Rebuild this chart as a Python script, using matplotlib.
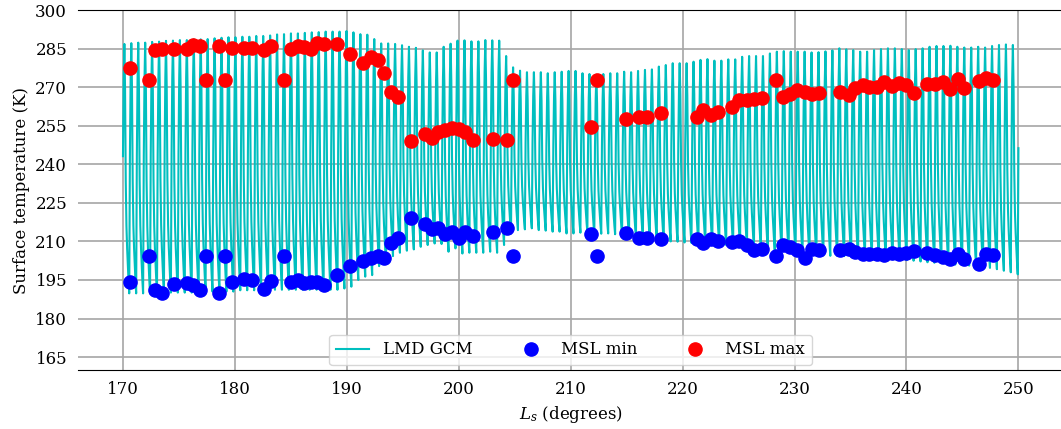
import matplotlib
matplotlib.use("Agg")
import matplotlib.pyplot as plt
import numpy as np

plt.rcParams['font.family'] = 'DejaVu Serif'
plt.rcParams['mathtext.fontset'] = 'dejavuserif'
plt.rcParams['font.size'] = 12

# LMD GCM: daily maximum / minimum surface temperature (K), one value per sol
gcm_tmax = [286.8, 287.1, 287.3, 287.3, 287.6, 287.7, 288.0, 288.1, 288.3, 288.3,
            288.6, 288.6, 288.7, 289.0, 289.2, 289.4, 289.4, 289.6, 289.6, 289.9,
            289.9, 290.1, 290.5, 290.6, 290.9, 290.9, 291.1, 291.3, 291.4, 291.6,
            291.6, 291.6, 291.8, 291.3, 290.6, 290.4, 288.7, 287.0, 287.0, 286.8,
            286.3, 285.7, 285.3, 284.3, 283.5, 283.5, 285.7, 286.9, 288.1, 288.2,
            287.8, 287.8, 288.3, 288.2, 288.1, 282.1, 277.7, 276.4, 275.8, 275.8,
            275.8, 275.4, 275.8, 276.0, 276.3, 276.3, 275.4, 275.1, 274.8, 275.1,
            275.4, 275.4, 276.0, 275.8, 276.3, 276.7, 276.9, 278.0, 278.6, 279.3,
            279.3, 279.3, 279.9, 280.6, 280.9, 280.3, 280.3, 280.8, 280.8, 281.8,
            282.1, 282.1, 282.1, 283.1, 283.8, 284.0, 283.8, 283.8, 283.8, 283.5,
            283.6, 283.9, 284.3, 285.1, 284.7, 284.4, 283.8, 283.8, 284.4, 284.8,
            285.1, 285.1, 284.8, 284.4, 284.8, 285.1, 285.7, 286.0, 286.0, 286.1,
            285.7, 285.4, 285.4, 285.7, 285.4, 286.0, 286.4, 286.6, 286.4]
gcm_tmin = [189.8, 189.8, 189.8, 189.8, 189.8, 190.1, 190.1, 190.1, 190.1, 190.1,
            190.1, 190.5, 190.5, 190.5, 190.5, 190.5, 191.0, 191.0, 191.0, 191.0,
            191.0, 191.2, 191.2, 191.2, 191.2, 191.2, 191.2, 191.2, 191.2, 191.2,
            191.2, 191.7, 192.4, 195.0, 196.3, 196.9, 200.4, 201.4, 204.3, 205.6,
            206.4, 206.9, 207.9, 208.6, 209.2, 209.0, 206.0, 207.3, 205.3, 205.6,
            205.6, 205.6, 206.0, 205.6, 208.6, 213.1, 214.4, 214.7, 215.1, 214.4,
            214.2, 213.8, 213.8, 213.1, 213.1, 213.4, 213.8, 213.1, 213.0, 213.1,
            212.8, 212.5, 212.2, 211.8, 211.5, 211.2, 210.9, 210.5, 210.0, 209.9,
            209.6, 209.4, 209.2, 209.2, 209.0, 208.9, 208.6, 208.6, 208.3, 207.9,
            207.6, 207.3, 206.9, 206.3, 206.0, 205.6, 205.3, 204.9, 204.7, 204.5,
            204.6, 204.4, 204.4, 204.3, 204.0, 203.9, 203.8, 203.6, 203.4, 203.2,
            203.0, 202.8, 202.7, 202.5, 202.2, 201.9, 201.7, 201.5, 201.3, 201.0,
            200.8, 200.6, 200.4, 200.1, 199.7, 199.2, 198.6, 198.0, 197.2]

# shape of one sol (fraction of the sol, fraction of the min->max range)
sol_phase = [0.0, 0.1, 0.2, 0.3, 0.4, 0.5, 0.6, 0.7, 0.8, 0.9]
sol_frac = [0.55, 0.85, 1.0, 0.82, 0.45, 0.27, 0.18, 0.11, 0.05, 0.0]

ls_start = 170.0
ls_end = 250.0

# MSL (REMS) measurements
msl_ls = [170.6, 172.3, 172.85, 173.45, 174.56, 175.68, 176.29, 176.88, 177.42, 178.58,
          179.14, 179.74, 180.84, 181.5, 182.6, 183.25, 184.39, 184.98, 185.6, 186.18,
          186.77, 187.37, 187.96, 189.15, 190.32, 191.48, 192.14, 192.75, 193.32, 193.92,
          194.55, 195.72, 196.98, 197.57, 198.18, 198.78, 199.4, 200.0, 200.6, 201.24,
          203.04, 204.29, 204.88, 211.77, 212.36, 214.9, 216.14, 216.8, 218.08, 221.27,
          221.86, 222.52, 223.2, 224.45, 225.08, 225.74, 226.39, 227.07, 228.32, 228.95,
          229.6, 230.26, 230.95, 231.6, 232.22, 234.1, 234.82, 235.4, 236.07, 236.69,
          237.35, 238.0, 238.69, 239.35, 239.97, 240.69, 241.82, 242.56, 243.25, 243.9,
          244.56, 245.18, 246.45, 247.12, 247.72]
msl_min = [194.3, 204.4, 191.3, 190.0, 193.4, 193.9, 193.0, 191.3, 204.4, 190.0,
           204.4, 194.1, 195.5, 195.1, 191.6, 194.5, 204.4, 194.3, 195.0, 193.7,
           194.3, 194.3, 192.9, 196.9, 200.4, 202.4, 203.4, 204.3, 203.6, 209.2,
           211.4, 219.0, 216.8, 214.8, 215.1, 212.9, 213.8, 211.4, 213.8, 212.2,
           213.8, 215.1, 204.4, 212.8, 204.4, 213.4, 211.4, 211.2, 210.8, 210.9,
           209.5, 211.0, 210.3, 209.8, 210.1, 208.6, 206.6, 207.0, 204.4, 208.6,
           207.9, 206.6, 203.6, 207.0, 206.6, 206.5, 206.9, 206.0, 205.1, 205.3,
           205.1, 204.7, 205.6, 205.1, 205.6, 206.3, 205.6, 204.7, 204.0, 203.0,
           205.1, 203.0, 201.1, 205.3, 204.7]
msl_max = [277.6, 272.8, 284.4, 284.8, 284.8, 284.8, 286.5, 286.1, 272.8, 286.1,
           272.8, 285.3, 285.1, 285.3, 284.6, 285.9, 272.8, 284.7, 286.1, 285.6,
           285.0, 287.3, 286.9, 286.8, 283.0, 279.3, 281.8, 280.5, 275.4, 268.2,
           266.0, 249.0, 251.6, 250.3, 252.7, 253.3, 254.2, 253.9, 252.7, 249.4,
           249.7, 249.4, 272.8, 254.6, 272.8, 257.6, 258.5, 258.2, 260.1, 258.2,
           261.1, 259.2, 260.4, 262.1, 265.0, 265.0, 265.3, 265.6, 272.8, 266.0,
           267.3, 268.9, 268.0, 267.3, 267.8, 268.2, 266.9, 269.5, 270.8, 269.9,
           269.9, 272.1, 270.4, 271.5, 270.8, 267.8, 271.2, 271.2, 272.1, 269.1,
           273.2, 269.8, 272.4, 273.4, 272.8]

# build the GCM time series sol by sol
tmax = np.array(gcm_tmax)
tmin = np.array(gcm_tmin)
nsol = len(tmax)
dls = (ls_end - ls_start) / nsol
sol = np.arange(nsol)
ls_gcm = ls_start + (sol[:, None] + np.array(sol_phase)[None, :]) * dls
t_gcm = tmin[:, None] + np.array(sol_frac)[None, :] * (tmax - tmin)[:, None]
ls_gcm = np.append(ls_gcm.ravel(), ls_end)
t_gcm = np.append(t_gcm.ravel(), tmin[-1] + sol_frac[0] * (tmax[-1] - tmin[-1]))

# Plotting
fig = plt.figure(figsize=(10.61, 4.29), dpi=100)
ax = fig.add_axes([78.2 / 1061, 1 - 370 / 429, 985 / 1061, 360 / 429])

ax.plot(ls_gcm, t_gcm, color='c', lw=1.5, label='LMD GCM')
ax.plot(msl_ls, msl_min, 'o', color='blue', ms=9.5, label='MSL min')
ax.plot(msl_ls, msl_max, 'o', color='red', ms=9.5, label='MSL max')

ax.set_xlim(166, 254)
ax.set_ylim(160, 300)
ax.set_xticks(np.arange(170, 251, 10))
ax.set_yticks(np.arange(165, 301, 15))
ax.set_xlabel('$L_s$ (degrees)')
ax.set_ylabel('Surface temperature (K)')
ax.grid(color='0.65', lw=1.2)
ax.set_axisbelow(True)
ax.spines['left'].set_visible(False)
ax.spines['right'].set_visible(False)
ax.tick_params(length=0, pad=8)
ax.legend(loc='lower center', ncol=3, borderaxespad=0.3, columnspacing=2.5)

fig.savefig('out.png', dpi=100)
